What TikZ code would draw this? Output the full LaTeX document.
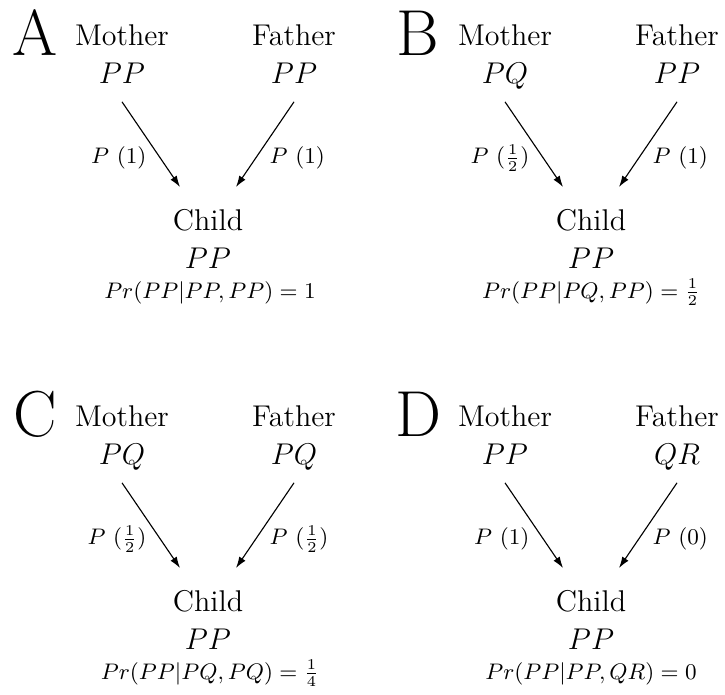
\documentclass[tikz,border=0pt]{standalone}
\usepackage{amsmath}
\usetikzlibrary{arrows.meta,positioning}

\begin{document}
\begin{tikzpicture}[x=0.4pt,y=-0.4pt,
  tag/.style={font=\fontsize{26}{30}\selectfont,anchor=base,inner sep=0pt},
  who/.style={font=\fontsize{12}{15.2}\selectfont,align=center,inner sep=0pt,text depth=0pt,anchor=north},
  parent/.style={who,outer ysep=7.2pt},
  kid/.style={who,outer ysep=8.8pt},
  prob/.style={font=\small,anchor=base,inner sep=0pt},
  lbl/.style={font=\small,pos=0.66},
  arr/.style={-{Latex[length=4.5pt,width=3pt]},line width=0.45pt}]
\useasboundingbox (0,0) rectangle (725,694);
% A
\node[tag] (la) at (35,55) {A};
\node[parent] (ma) at (122,7) {Mother\\$PP$};
\node[parent] (fa) at (294,7) {Father\\$PP$};
\node[kid] (ca) at (208,187) {Child\\$PP$};
\node[prob] (pa) at (210,298) {$Pr(PP|PP,PP)=1$};
\draw[arr] (ma.south) -- ([xshift=-11.2pt]ca.north) node[lbl,left=2pt]{$P\ (1)$};
\draw[arr] (fa.south) -- ([xshift=11.2pt]ca.north) node[lbl,right=2pt]{$P\ (1)$};
% B
\node[tag] (lb) at (418,55) {B};
\node[parent] (mb) at (505,7) {Mother\\$PQ$};
\node[parent] (fb) at (677,7) {Father\\$PP$};
\node[kid] (cb) at (591,187) {Child\\$PP$};
\node[prob] (pb) at (591,298) {$Pr(PP|PQ,PP)=\frac{1}{2}$};
\draw[arr] (mb.south) -- ([xshift=-11.2pt]cb.north) node[lbl,left=2pt]{$P\ (\frac{1}{2})$};
\draw[arr] (fb.south) -- ([xshift=11.2pt]cb.north) node[lbl,right=2pt]{$P\ (1)$};
% C
\node[tag] (lc) at (35,436) {C};
\node[parent] (mc) at (122,388) {Mother\\$PQ$};
\node[parent] (fc) at (294,388) {Father\\$PQ$};
\node[kid] (cc) at (208,568) {Child\\$PP$};
\node[prob] (pc) at (210,679) {$Pr(PP|PQ,PQ)=\frac{1}{4}$};
\draw[arr] (mc.south) -- ([xshift=-11.2pt]cc.north) node[lbl,left=2pt]{$P\ (\frac{1}{2})$};
\draw[arr] (fc.south) -- ([xshift=11.2pt]cc.north) node[lbl,right=2pt]{$P\ (\frac{1}{2})$};
% D
\node[tag] (ld) at (418,436) {D};
\node[parent] (md) at (505,388) {Mother\\$PP$};
\node[parent] (fd) at (677,388) {Father\\$QR$};
\node[kid] (cd) at (591,568) {Child\\$PP$};
\node[prob] (pd) at (591,679) {$Pr(PP|PP,QR)=0$};
\draw[arr] (md.south) -- ([xshift=-11.2pt]cd.north) node[lbl,left=2pt]{$P\ (1)$};
\draw[arr] (fd.south) -- ([xshift=11.2pt]cd.north) node[lbl,right=2pt]{$P\ (0)$};
\end{tikzpicture}
\end{document}
